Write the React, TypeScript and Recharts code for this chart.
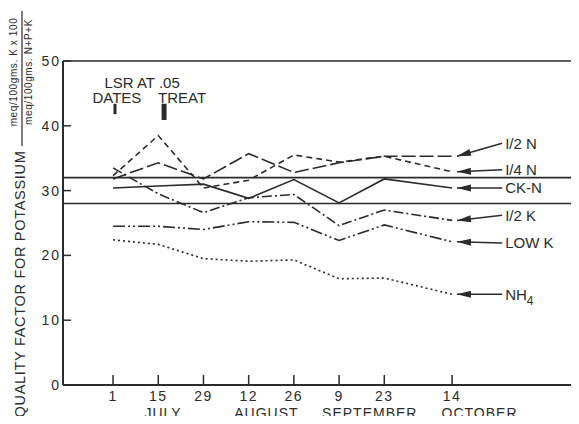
import { Line, LineChart, ReferenceDot, ReferenceLine, XAxis, YAxis } from "recharts";

// sampling dates, counted in days from July 1
const days = [0, 14, 28, 42, 56, 70, 84, 105];
const dayLabels = ["1", "15", "29", "12", "26", "9", "23", "14"];
const monthNames = ["JULY", "AUGUST", "SEPTEMBER", "OCTOBER"];
const monthCenters = [15.5, 47.5, 79.5, 113.5];
const yTicks = [0, 10, 20, 30, 40, 50];

const halfN = [31.8, 34.3, 31.8, 35.7, 32.8, 34.3, 35.3, 35.3];
const quarterN = [32.3, 38.5, 30.4, 31.6, 35.5, 34.4, 35.3, 32.9];
const checkN = [30.4, 30.7, 31.0, 28.8, 31.7, 28.1, 31.8, 30.4];
const halfK = [33.5, 29.5, 26.6, 28.9, 29.4, 24.6, 27.0, 25.4];
const lowK = [24.5, 24.5, 24.0, 25.2, 25.1, 22.3, 24.7, 22.1];
const nh4 = [22.4, 21.7, 19.5, 19.1, 19.3, 16.4, 16.5, 14.0];

// horizontal reference levels
const refLevels = [32, 28];

// LSR at .05
const lsrTop = 43.4;
const lsrDates = 1.6;
const lsrTreat = 2.5;

// right-hand labels
const seriesKeys = ["halfN", "quarterN", "checkN", "halfK", "lowK", "nh4"];
const seriesNames = ["I/2 N", "I/4 N", "CK-N", "I/2 K", "LOW K", "NH4"];
const labelLevels = [37.3, 33.2, 30.4, 26.2, 21.9, 14.0];
const dashes = ["14 4", "6 4", undefined, "10 3 2 3", "12 3 2 3 2 3", "2 3"];

const INK = "#2b2b2b";
const FONT = "'Liberation Sans', Arial, sans-serif";

const data = days.map((day, i) => ({
  day,
  halfN: halfN[i],
  quarterN: quarterN[i],
  checkN: checkN[i],
  halfK: halfK[i],
  lowK: lowK[i],
  nh4: nh4[i],
}));

const seriesValues: Record<string, number[]> = { halfN, quarterN, checkN, halfK, lowK, nh4 };

function YTick({ x, y, payload }: any) {
  return (
    <g>
      <line x1={x + 2} x2={x + 10} y1={y} y2={y} stroke={INK} strokeWidth={1.5} />
      <text x={x} y={y} dy="0.36em" textAnchor="end" fill={INK} fontSize={14} fontFamily={FONT} letterSpacing={2}>
        {payload.value}
      </text>
    </g>
  );
}

function DayTick({ x, y, payload }: any) {
  const i = days.indexOf(payload.value);
  return (
    <g>
      <line x1={x} x2={x} y1={y - 6} y2={y - 16} stroke={INK} strokeWidth={1.5} />
      <text x={x} y={y} dy="0.71em" textAnchor="middle" fill={INK} fontSize={14} fontFamily={FONT} letterSpacing={1.5}>
        {dayLabels[i]}
      </text>
    </g>
  );
}

function MonthTick({ x, y, payload }: any) {
  const i = monthCenters.indexOf(payload.value);
  return (
    <text x={x} y={y} dy="0.71em" textAnchor="middle" fill={INK} fontSize={14} fontFamily={FONT} letterSpacing={1}>
      {monthNames[i]}
    </text>
  );
}

function YTitle({ viewBox }: any) {
  const left = viewBox.x;
  return (
    <g fill={INK} fontFamily={FONT}>
      <text transform={`translate(${left + 25},284) rotate(-90)`} textAnchor="middle" fontSize={14.5} letterSpacing={0.7}>
        QUALITY FACTOR FOR POTASSIUM
      </text>
      <text transform={`translate(${left + 17},72) rotate(-90)`} textAnchor="middle" fontSize={10} letterSpacing={0.6}>
        meq/100gms. K x 100
      </text>
      <line x1={left + 22} x2={left + 22} y1={11} y2={146} stroke={INK} strokeWidth={1.2} />
      <text transform={`translate(${left + 32},72) rotate(-90)`} textAnchor="middle" fontSize={10} letterSpacing={0.6}>
        meq/100gms. N+P+K
      </text>
    </g>
  );
}

const arrowShape = (name: string) => (p: any) => {
  const { x1, y1, x2, y2 } = p;
  const len = Math.hypot(x2 - x1, y2 - y1) || 1;
  const ux = (x2 - x1) / len;
  const uy = (y2 - y1) / len;
  const bx = x1 + ux * 14;
  const by = y1 + uy * 14;
  const pts = `${x1},${y1} ${bx - uy * 3.5},${by + ux * 3.5} ${bx + uy * 3.5},${by - ux * 3.5}`;
  const sub = name === "NH4";
  return (
    <g>
      <line x1={x1} y1={y1} x2={x2} y2={y2} stroke={INK} strokeWidth={1.5} />
      <polygon points={pts} fill={INK} />
      <text x={x2 + 3} y={y2} dy="0.36em" fill={INK} fontSize={15} fontFamily={FONT}>
        {sub ? (
          <>
            NH<tspan dy="5" fontSize={12}>4</tspan>
          </>
        ) : (
          name
        )}
      </text>
    </g>
  );
};

const textShape = (text: string) => (p: any) => (
  <text x={p.cx} y={p.cy} textAnchor="middle" fill={INK} fontSize={15} fontFamily={FONT}>
    {text}
  </text>
);

export default function App() {
  return (
    <div style={{ margin: -8, width: 579, height: 424, background: "#fff" }}>
      <LineChart width={579} height={424} data={data} margin={{ top: 61, right: 0, left: 0, bottom: 0 }}>
        <XAxis
          dataKey="day"
          type="number"
          domain={[-15.5, 144.3]}
          ticks={days}
          interval={0}
          allowDataOverflow
          height={20}
          tickSize={0}
          tickMargin={6}
          tick={<DayTick />}
          axisLine={{ stroke: INK, strokeWidth: 2 }}
          tickLine={false}
        />
        <XAxis
          xAxisId="month"
          dataKey="day"
          type="number"
          domain={[-15.5, 144.3]}
          ticks={monthCenters}
          interval={0}
          allowDataOverflow
          height={19}
          tickSize={0}
          tickMargin={3}
          tick={<MonthTick />}
          axisLine={false}
          tickLine={false}
        />
        <YAxis
          type="number"
          domain={[0, 50]}
          ticks={yTicks}
          interval={0}
          width={63}
          tickSize={0}
          tickMargin={2}
          tick={<YTick />}
          axisLine={{ stroke: INK, strokeWidth: 2 }}
          tickLine={false}
          label={<YTitle />}
        />
        <ReferenceLine y={50} stroke={INK} strokeWidth={1.5} />
        {refLevels.map((v) => (
          <ReferenceLine key={v} y={v} stroke={INK} strokeWidth={1.6} />
        ))}
        <ReferenceLine
          segment={[{ x: 0.6, y: lsrTop - lsrDates }, { x: 0.6, y: lsrTop }]}
          stroke={INK}
          strokeWidth={3}
        />
        <ReferenceLine
          segment={[{ x: 15.8, y: lsrTop - lsrTreat }, { x: 15.8, y: lsrTop }]}
          stroke={INK}
          strokeWidth={5}
        />
        <ReferenceDot x={9} y={45.8} r={0} shape={textShape("LSR AT .05")} />
        <ReferenceDot x={1.2} y={43.5} r={0} shape={textShape("DATES")} />
        <ReferenceDot x={21.4} y={43.5} r={0} shape={textShape("TREAT")} />
        {seriesKeys.map((k, i) => (
          <Line
            key={k}
            dataKey={k}
            name={seriesNames[i]}
            type="linear"
            stroke={INK}
            strokeWidth={1.6}
            strokeDasharray={dashes[i]}
            dot={false}
            isAnimationActive={false}
          />
        ))}
        {seriesKeys.map((k, i) => {
          const vals = seriesValues[k];
          return (
            <ReferenceLine
              key={"arrow-" + k}
              segment={[
                { x: 106.5, y: vals[vals.length - 1] },
                { x: 120.5, y: labelLevels[i] },
              ]}
              shape={arrowShape(seriesNames[i])}
            />
          );
        })}
      </LineChart>
    </div>
  );
}
